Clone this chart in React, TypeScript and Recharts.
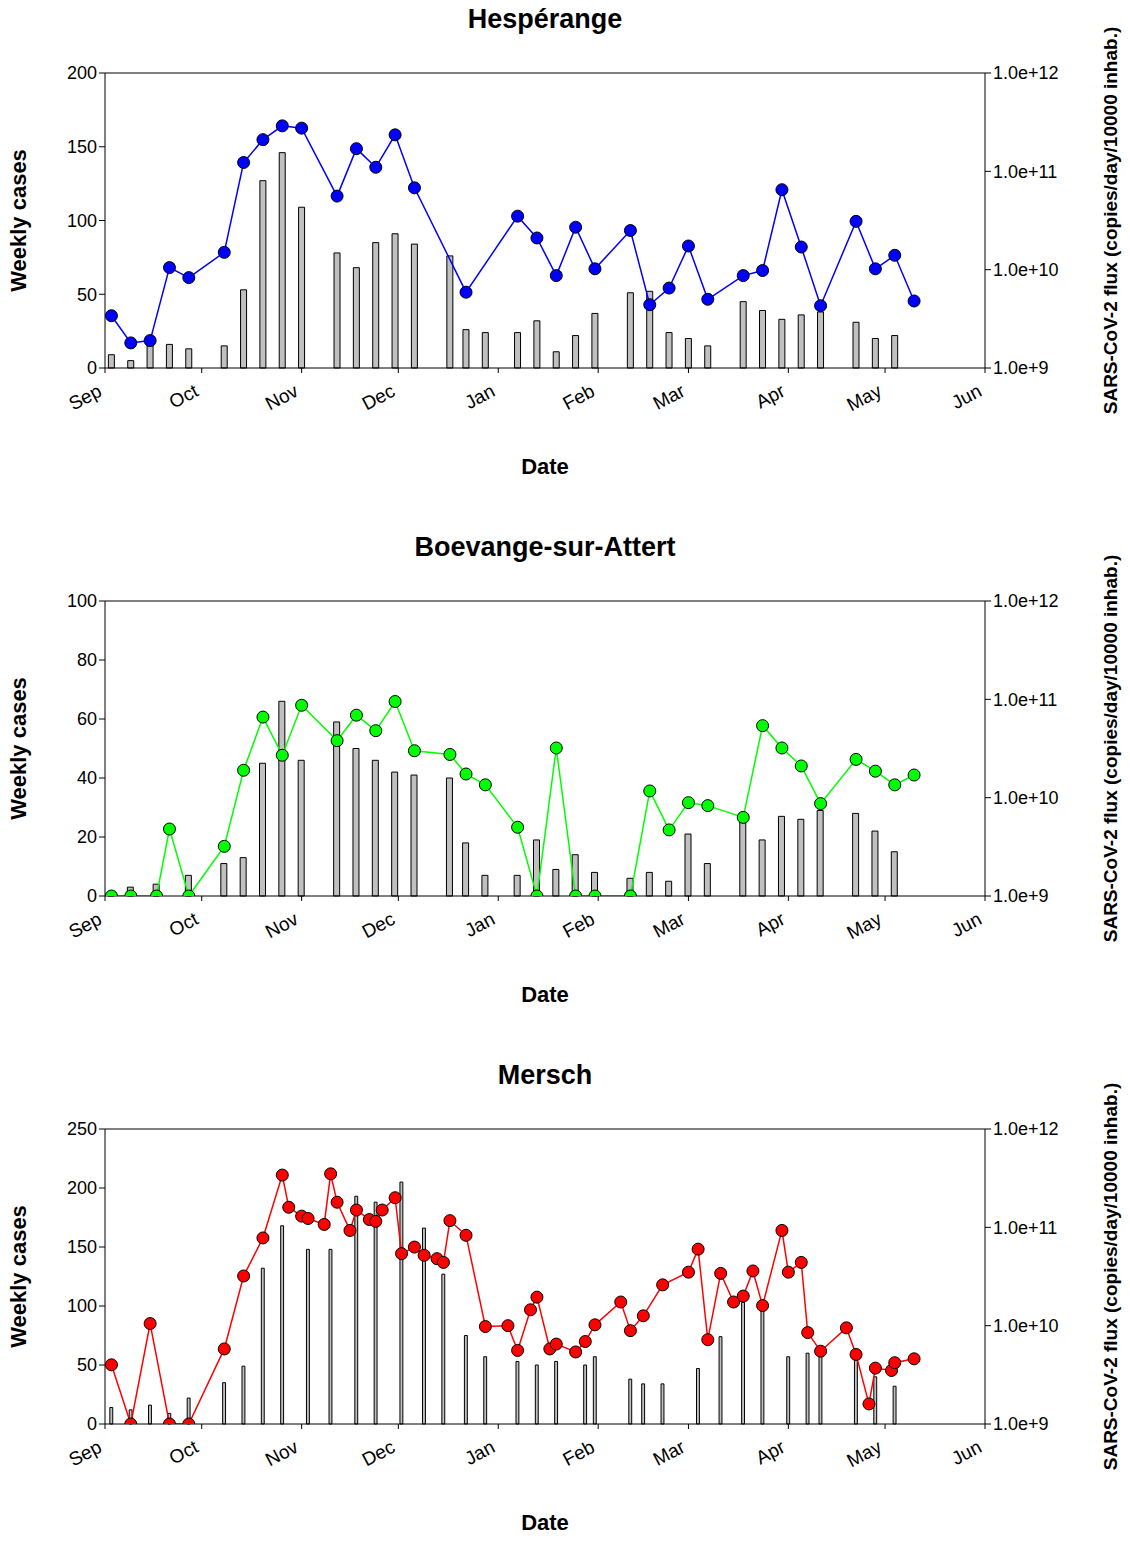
import React from 'react';
import {
  ComposedChart,
  Bar,
  Line,
  XAxis,
  YAxis,
  ReferenceLine,
} from 'recharts';

// x values are days since 1 Sep
const monthTicks = [0, 30, 61, 91, 122, 153, 181, 212, 242, 273];
const monthLabels = ['Sep', 'Oct', 'Nov', 'Dec', 'Jan', 'Feb', 'Mar', 'Apr', 'May', 'Jun'];
const fluxTicks = [1e9, 1e10, 1e11, 1e12];

// Hespérange
const hesBarDays = [2, 8, 14, 20, 26, 37, 43, 49, 55, 61, 72, 78, 84, 90, 96, 107, 112, 118, 128, 134, 140, 146, 152, 163, 169, 175, 181, 187, 198, 204, 210, 216, 222, 233, 239, 245];
const hesCases = [9, 5, 17, 16, 13, 15, 53, 127, 146, 109, 78, 68, 85, 91, 84, 76, 26, 24, 24, 32, 11, 22, 37, 51, 52, 24, 20, 15, 45, 39, 33, 36, 38, 31, 20, 22];
const hesFluxDays = [2, 8, 14, 20, 26, 37, 43, 49, 55, 61, 72, 78, 84, 90, 96, 112, 128, 134, 140, 146, 152, 163, 169, 175, 181, 187, 198, 204, 210, 216, 222, 233, 239, 245, 251];
const hesFlux = [3.4e9, 1.8e9, 1.9e9, 1.05e10, 8.3e9, 1.5e10, 1.23e11, 2.1e11, 2.9e11, 2.75e11, 5.6e10, 1.7e11, 1.1e11, 2.35e11, 6.8e10, 5.9e9, 3.5e10, 2.1e10, 8.7e9, 2.7e10, 1.02e10, 2.5e10, 4.4e9, 6.5e9, 1.74e10, 5.0e9, 8.7e9, 9.8e9, 6.5e10, 1.7e10, 4.3e9, 3.1e10, 1.02e10, 1.4e10, 4.8e9];

// Boevange-sur-Attert
const boeBarDays = [2, 8, 16, 26, 37, 43, 49, 55, 61, 72, 78, 84, 90, 96, 107, 112, 118, 128, 134, 140, 146, 152, 163, 169, 175, 181, 187, 198, 204, 210, 216, 222, 233, 239, 245];
const boeCases = [1, 3, 4, 7, 11, 13, 45, 66, 46, 59, 50, 46, 42, 41, 40, 18, 7, 7, 19, 9, 14, 8, 6, 8, 5, 21, 11, 27, 19, 27, 26, 29, 28, 22, 15];
const boeFluxDays = [2, 8, 16, 20, 26, 37, 43, 49, 55, 61, 72, 78, 84, 90, 96, 107, 112, 118, 128, 134, 140, 146, 152, 163, 169, 175, 181, 187, 198, 204, 210, 216, 222, 233, 239, 245, 251];
const boeFlux = [1e9, 1e9, 1e9, 4.8e9, 1e9, 3.2e9, 1.9e10, 6.6e10, 2.7e10, 8.7e10, 3.8e10, 6.9e10, 4.8e10, 9.5e10, 3.0e10, 2.75e10, 1.74e10, 1.35e10, 5.0e9, 1e9, 3.2e10, 1e9, 1e9, 1e9, 1.17e10, 4.7e9, 8.9e9, 8.3e9, 6.3e9, 5.4e10, 3.2e10, 2.1e10, 8.7e9, 2.45e10, 1.86e10, 1.35e10, 1.7e10];

// Mersch
const merBarDays = [2, 8, 14, 20, 26, 37, 43, 49, 55, 63, 70, 78, 84, 92, 99, 105, 112, 118, 128, 134, 140, 149, 152, 163, 167, 173, 184, 191, 198, 204, 212, 218, 222, 233, 239, 245];
const merCases = [14, 12, 16, 9, 22, 35, 49, 132, 168, 148, 148, 193, 188, 205, 166, 127, 75, 57, 53, 50, 53, 50, 57, 38, 34, 34, 47, 74, 103, 101, 57, 60, 61, 57, 40, 32];
const merFluxDays = [2, 8, 14, 20, 26, 37, 43, 49, 55, 57, 61, 63, 68, 70, 72, 76, 78, 82, 84, 86, 90, 92, 96, 99, 103, 105, 107, 112, 118, 125, 128, 132, 134, 138, 140, 146, 149, 152, 160, 163, 167, 173, 181, 184, 187, 191, 195, 198, 201, 204, 210, 212, 216, 218, 222, 230, 233, 237, 239, 244, 245, 251];
const merFlux = [4.0e9, 1e9, 1.05e10, 1e9, 1e9, 5.8e9, 3.2e10, 7.8e10, 3.4e11, 1.6e11, 1.3e11, 1.23e11, 1.07e11, 3.5e11, 1.8e11, 9.3e10, 1.5e11, 1.2e11, 1.15e11, 1.5e11, 2.0e11, 5.4e10, 6.3e10, 5.2e10, 4.8e10, 4.4e10, 1.17e11, 8.3e10, 9.8e9, 1.0e10, 5.6e9, 1.45e10, 1.95e10, 5.8e9, 6.5e9, 5.4e9, 6.9e9, 1.02e10, 1.74e10, 8.9e9, 1.26e10, 2.6e10, 3.5e10, 6.0e10, 7.2e9, 3.4e10, 1.74e10, 2.0e10, 3.6e10, 1.6e10, 9.3e10, 3.5e10, 4.4e10, 8.5e9, 5.5e9, 9.5e9, 5.1e9, 1.6e9, 3.7e9, 3.5e9, 4.2e9, 4.6e9];

function buildTable(barDays: number[], cases: number[], fluxDays: number[], flux: number[]) {
  const map = new Map<number, any>();
  barDays.forEach((d, i) => map.set(d, { day: d, cases: cases[i], flux: null }));
  fluxDays.forEach((d, i) => {
    const row = map.get(d) || { day: d, cases: null };
    row.flux = flux[i];
    map.set(d, row);
  });
  return Array.from(map.values()).sort((a, b) => a.day - b.day);
}

const font = 'Liberation Sans, Arial, sans-serif';

const MonthTick = (props: any) => {
  const { x, y, payload } = props;
  const i = monthTicks.indexOf(payload.value);
  return (
    <text x={x - 2} y={y + 20} textAnchor="end" fontSize={19} fontFamily={font} fill="#000"
      transform={`rotate(-28 ${x - 2} ${y + 20})`}>
      {monthLabels[i]}
    </text>
  );
};

function Panel({ title, data, color, yMax, yTicks }: any) {
  return (
    <div style={{ position: 'relative', width: 1130, height: 528 }}>
      <div style={{ position: 'absolute', top: 4, left: 0, width: 1090, textAlign: 'center', fontFamily: font, fontWeight: 'bold', fontSize: 27 }}>
        {title}
      </div>
      <ComposedChart width={1130} height={528} data={data} margin={{ top: 73, right: 0, bottom: 50, left: 0 }}>
        <XAxis dataKey="day" type="number" domain={[0, 273]} ticks={monthTicks} tick={<MonthTick />}
          height={110} stroke="#000" tickSize={5} tickLine={{ stroke: '#000' }}
          label={{ value: 'Date', position: 'insideBottom', offset: 4, style: { fontFamily: font, fontWeight: 'bold', fontSize: 22, fill: '#000' } }} />
        <YAxis yAxisId="l" domain={[0, yMax]} ticks={yTicks} width={105} stroke="#000"
          tick={{ fontSize: 18, fontFamily: font, fill: '#000' }}
          label={{ value: 'Weekly cases', angle: -90, position: 'insideLeft', offset: 18, style: { fontFamily: font, fontWeight: 'bold', fontSize: 22, fill: '#000', textAnchor: 'middle' } }} />
        <YAxis yAxisId="r" orientation="right" scale="log" domain={[1e9, 1e12]} ticks={fluxTicks} allowDataOverflow
          width={145} stroke="#000" tickFormatter={(v: number) => v.toExponential(1)}
          tick={{ fontSize: 18, fontFamily: font, fill: '#000' }}
          label={{ value: 'SARS-CoV-2 flux (copies/day/10000 inhab.)', angle: -90, position: 'insideRight', offset: 20, style: { fontFamily: font, fontWeight: 'bold', fontSize: 19, fill: '#000', textAnchor: 'middle' } }} />
        <ReferenceLine yAxisId="l" y={yMax} stroke="#000" />
        <Bar yAxisId="l" dataKey="cases" barSize={6} fill="#c0c0c0" stroke="#000" strokeWidth={1} isAnimationActive={false} />
        <Line yAxisId="r" dataKey="flux" stroke={color} strokeWidth={1.5} connectNulls
          dot={{ r: 6, fill: color, stroke: '#000', strokeWidth: 1 }} isAnimationActive={false} />
      </ComposedChart>
    </div>
  );
}

export default function App() {
  return (
    <div style={{ position: 'absolute', top: 0, left: 0, background: '#fff' }}>
      <Panel title="Hespérange" data={buildTable(hesBarDays, hesCases, hesFluxDays, hesFlux)} color="#0000ff" yMax={200} yTicks={[0, 50, 100, 150, 200]} />
      <Panel title="Boevange-sur-Attert" data={buildTable(boeBarDays, boeCases, boeFluxDays, boeFlux)} color="#00ff00" yMax={100} yTicks={[0, 20, 40, 60, 80, 100]} />
      <Panel title="Mersch" data={buildTable(merBarDays, merCases, merFluxDays, merFlux)} color="#ff0000" yMax={250} yTicks={[0, 50, 100, 150, 200, 250]} />
    </div>
  );
}
